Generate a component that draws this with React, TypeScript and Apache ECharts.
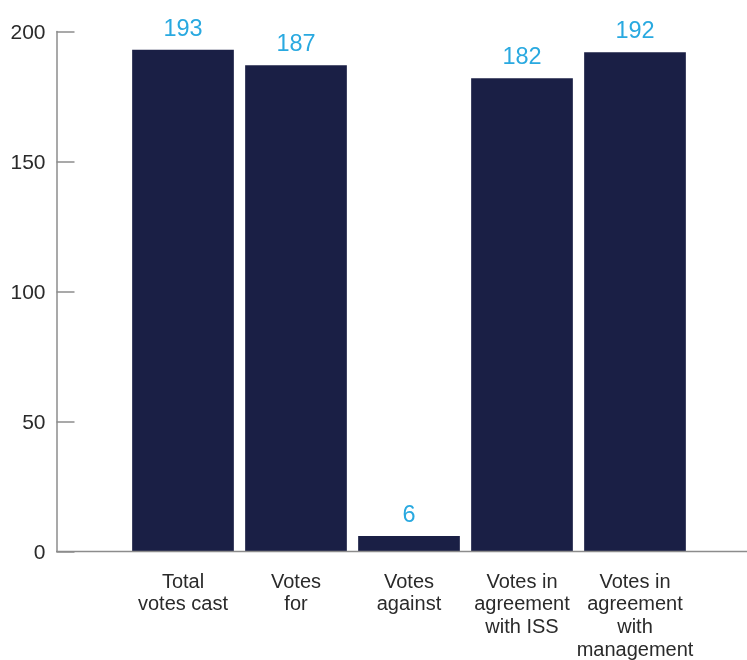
import React, { useEffect, useRef } from "react";
import * as echarts from "echarts";

const categories = [
  "Total\nvotes cast",
  "Votes\nfor",
  "Votes\nagainst",
  "Votes in\nagreement\nwith ISS",
  "Votes in\nagreement\nwith\nmanagement",
];
const votes = [193, 187, 6, 182, 192];
const yTicks = { min: 0, max: 200, interval: 50 };

const FONT = "'Liberation Sans', Helvetica, Arial, sans-serif";
const AXIS_COLOR = "#8c8c8c";
const TEXT_COLOR = "#2a2a2a";

export default function App() {
  const ref = useRef<HTMLDivElement>(null);
  useEffect(() => {
    if (!ref.current) return;
    const chart = echarts.init(ref.current, undefined, { renderer: "svg" });
    chart.setOption({
      animation: false,
      textStyle: { fontFamily: FONT },
      grid: { left: 126.5, right: 55.5, top: 31.5, bottom: 108.5 },
      xAxis: {
        type: "category",
        data: categories,
        axisLine: { show: false },
        axisTick: { show: false },
        axisLabel: {
          color: TEXT_COLOR,
          fontSize: 20,
          lineHeight: 22.6,
          margin: 18,
          fontFamily: FONT,
          interval: 0,
        },
      },
      yAxis: {
        type: "value",
        min: yTicks.min,
        max: yTicks.max,
        interval: yTicks.interval,
        offset: 70,
        splitLine: { show: false },
        axisLine: { show: true, lineStyle: { color: AXIS_COLOR, width: 1.5 } },
        axisTick: { show: true, inside: true, length: 18, lineStyle: { color: AXIS_COLOR, width: 1.5 } },
        axisLabel: { color: TEXT_COLOR, fontSize: 21, margin: 11, fontFamily: FONT },
      },
      graphic: [
        {
          type: "line",
          shape: { x1: 56, y1: 551.5, x2: 747, y2: 551.5 },
          style: { stroke: AXIS_COLOR, lineWidth: 1.5 },
          z: 10,
        },
      ],
      series: [
        {
          type: "bar",
          data: votes,
          barCategoryGap: "10%",
          itemStyle: { color: "#1a1f45" },
          label: {
            show: true,
            position: "top",
            distance: 10,
            color: "#29a9e0",
            fontSize: 23.5,
            fontFamily: FONT,
          },
        },
      ],
    });
    return () => chart.dispose();
  }, []);
  return (
    <div
      ref={ref}
      style={{ position: "fixed", left: 0, top: 0, width: 747, height: 660 }}
    />
  );
}
